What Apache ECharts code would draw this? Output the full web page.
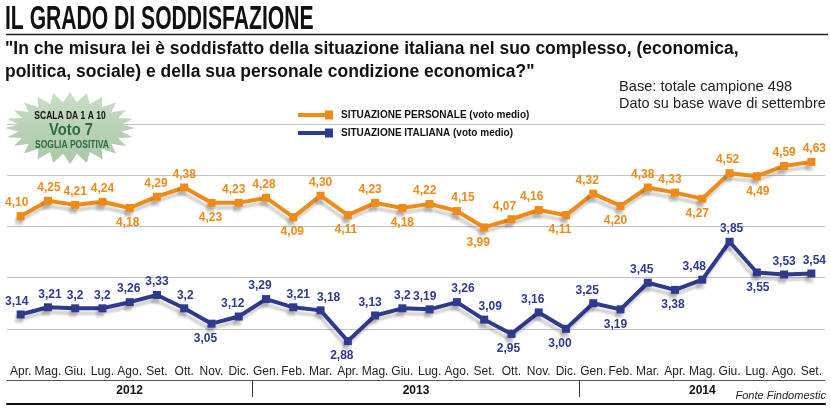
<!DOCTYPE html>
<html>
<head>
<meta charset="utf-8">
<script src="https://cdn.jsdelivr.net/npm/echarts@6/dist/echarts.min.js"></script>
<style>
html,body{margin:0;padding:0;background:#fff;}
#chart{width:831px;height:410px;}
</style>
</head>
<body>
<div id="chart"></div>
<script>
// ---- data ----
const months = ['Apr.','Mag.','Giu.','Lug.','Ago.','Set.','Ott.','Nov.','Dic.',
  'Gen.','Feb.','Mar.','Apr.','Mag.','Giu.','Lug.','Ago.','Set.','Ott.','Nov.','Dic.',
  'Gen.','Feb.','Mar.','Apr.','Mag.','Giu.','Lug.','Ago.','Set.'];
const years = ['2012','2013','2014'];
const monthsPerYear = [9, 12, 9];
const personale = ['4.10','4.25','4.21','4.24','4.18','4.29','4.38','4.23','4.23',
  '4.28','4.09','4.30','4.11','4.23','4.18','4.22','4.15','3.99','4.07','4.16','4.11',
  '4.32','4.20','4.38','4.33','4.27','4.52','4.49','4.59','4.63'];
const italiana = ['3.14','3.21','3.2','3.2','3.26','3.33','3.2','3.05','3.12',
  '3.29','3.21','3.18','2.88','3.13','3.2','3.19','3.26','3.09','2.95','3.16','3.00',
  '3.25','3.19','3.45','3.38','3.48','3.85','3.55','3.53','3.54'];
const seriesNames = ['SITUAZIONE PERSONALE (voto medio)', 'SITUAZIONE ITALIANA (voto medio)'];
const yMin = 2.5, yMax = 5, yStep = 0.5;

// ---- label placement (style only) ----
const personaleBelow = [4,7,10,12,14,17,20,22,25,27];
const italianaBelow = [7,12,18,20,22,24,27];
const personaleDx = [-4,1,0,0,-2,-1,0,-1,-5,-2,-1,0,-2,-5,0,-5,6,-6,-7,-7,-6,-6,-5,-5,-5,-5,-2,1,0,3];
const italianaDx = [-4,2,0,0,-1,0,1,-6,-6,-6,5,8,-6,-5,0,-5,6,6,-3,-6,-6,-6,-5,-6,-2,-8,2,1,0,3];

const ORANGE = '#EF8A17';
const BLUE = '#2E3A8E';
const FONT = "'Liberation Sans', Arial, sans-serif";

// year spans
const yearStarts = [];
const yearCenters = [];
let acc = 0;
monthsPerYear.forEach(n => { yearStarts.push(acc); yearCenters.push(acc + n / 2); acc += n; });

function buildData(vals, below, dx) {
  return vals.map((v, i) => {
    const b = below.includes(i);
    return {
      value: Number(v),
      label: { position: b ? 'bottom' : 'top', distance: b ? 5 : 3, offset: [dx[i], 0] }
    };
  });
}

const shadow = { shadowColor: 'rgba(0,0,0,0.17)', shadowOffsetX: -2, shadowOffsetY: 5, shadowBlur: 2 };

function lineSeries(name, vals, below, dx, color, z) {
  return {
    type: 'line', name: name, data: buildData(vals, below, dx),
    symbol: 'rect', symbolSize: 8, color: color, z: z,
    lineStyle: Object.assign({ width: 4, color: color }, shadow),
    itemStyle: Object.assign({ color: color }, shadow),
    label: {
      show: true, color: color, fontWeight: 'bold', fontSize: 12, fontFamily: FONT,
      formatter: p => vals[p.dataIndex].replace('.', ',')
    },
    emphasis: { disabled: true },
    animation: false
  };
}

// starburst badge points (decoration)
const star = [];
const spikes = 24, cx = 70, cy = 128;
for (let k = 0; k < spikes * 2; k++) {
  const a = Math.PI * k / spikes - Math.PI / 2;
  const outer = k % 2 === 0;
  const rx = outer ? 65 : 52, ry = outer ? 36 : 26;
  star.push([cx + rx * Math.cos(a), cy + ry * Math.sin(a)]);
}

const chart = echarts.init(document.getElementById('chart'), null, { renderer: 'canvas' });
chart.setOption({
  backgroundColor: '#fff',
  animation: false,
  grid: { left: 7, right: 6, top: 124, bottom: 30, containLabel: false },
  legend: {
    data: seriesNames, orient: 'vertical', left: 298, top: 110, itemGap: 8, padding: 0,
    itemWidth: 35, itemHeight: 9,
    icon: 'path://M0,2.5 L28,2.5 L28,6.5 L0,6.5 Z M27,0 L35,0 L35,9 L27,9 Z',
    itemStyle: { shadowBlur: 0, shadowOffsetX: 0, shadowOffsetY: 0, shadowColor: 'transparent' },
    textStyle: { fontFamily: FONT, fontWeight: 'bold', fontSize: 10, color: '#111', padding: [0, 0, 0, 3] },
    selectedMode: false
  },
  xAxis: [{
    type: 'category', data: months, boundaryGap: true,
    axisLine: { lineStyle: { color: '#555', width: 1 } },
    axisTick: { show: false },
    axisLabel: { inside: true, margin: 2, interval: 0, color: '#222', fontSize: 12, fontFamily: FONT },
    splitLine: { show: false }
  }, {
    type: 'value', min: 0, max: months.length, position: 'bottom', offset: 24,
    axisLine: { show: true, onZero: false, lineStyle: { color: '#111', width: 2 } },
    axisTick: { show: false }, splitLine: { show: false },
    axisLabel: {
      customValues: yearCenters, inside: true, margin: 7,
      color: '#111', fontWeight: 'bold', fontSize: 12, fontFamily: FONT,
      formatter: v => { const k = yearCenters.findIndex(c => Math.abs(c - v) < 1e-6); return k >= 0 ? years[k] : ''; }
    }
  }, {
    type: 'value', min: 0, max: months.length, position: 'bottom', offset: 0,
    axisLine: { show: false, onZero: false },
    axisLabel: { show: false }, splitLine: { show: false },
    axisTick: { show: true, customValues: yearStarts.slice(1), length: 17, lineStyle: { color: '#333', width: 1 } }
  }],
  yAxis: {
    type: 'value', min: yMin, max: yMax, interval: yStep,
    axisLabel: { show: false }, axisLine: { show: false }, axisTick: { show: false },
    splitLine: { lineStyle: { color: '#bfc3c7', width: 1 } }
  },
  series: [
    lineSeries(seriesNames[0], personale, personaleBelow, personaleDx, ORANGE, 3),
    lineSeries(seriesNames[1], italiana, italianaBelow, italianaDx, BLUE, 4)
  ],
  title: {
    text: 'Fonte Findomestic', right: 5, top: 390, padding: 0,
    textStyle: { fontFamily: FONT, fontStyle: 'italic', fontWeight: 'normal', fontSize: 11, color: '#222' }
  },
  graphic: [
    { type: 'text', x: 5, y: 3, scaleX: 0.64, z: 100,
      style: { text: 'IL GRADO DI SODDISFAZIONE', font: "bold 33px " + FONT, fill: '#111', verticalAlign: 'top' } },
    { type: 'line', z: 100, shape: { x1: 6, y1: 34.5, x2: 828, y2: 34.5 }, style: { stroke: '#222', lineWidth: 1.5 } },
    { type: 'text', x: 5, y: 49, scaleX: 0.972, z: 100,
      style: { text: '"In che misura lei è soddisfatto della situazione italiana nel suo complesso, (economica,', font: "bold 18px " + FONT, fill: '#111', verticalAlign: 'middle' } },
    { type: 'text', x: 5, y: 72, scaleX: 0.972, z: 100,
      style: { text: 'politica, sociale) e della sua personale condizione economica?"', font: "bold 18px " + FONT, fill: '#111', verticalAlign: 'middle' } },
    { type: 'text', x: 619, y: 87, scaleX: 0.975, z: 100,
      style: { text: 'Base: totale campione 498', font: "normal 15px " + FONT, fill: '#222', verticalAlign: 'middle' } },
    { type: 'text', x: 619, y: 104, scaleX: 0.965, z: 100,
      style: { text: 'Dato su base wave di settembre', font: "normal 15px " + FONT, fill: '#222', verticalAlign: 'middle' } },
    { type: 'polygon', z: 100, shape: { points: star },
      style: { fill: new echarts.graphic.LinearGradient(0, 0, 0, 1, [{ offset: 0, color: '#c9dec6' }, { offset: 1, color: '#a9c7a5' }]) } },
    { type: 'text', x: 70, y: 116, z: 101, scaleX: 0.85,
      style: { text: 'SCALA DA 1 A 10', font: "bold 10px " + FONT, fill: '#111', align: 'center', verticalAlign: 'middle' } },
    { type: 'text', x: 71, y: 131, z: 101, scaleX: 0.92,
      style: { text: 'Voto 7', font: "bold 16px " + FONT, fill: '#2b6a45', align: 'center', verticalAlign: 'middle' } },
    { type: 'text', x: 72, y: 145, z: 101, scaleX: 0.85,
      style: { text: 'SOGLIA POSITIVA', font: "bold 10px " + FONT, fill: '#2b6a45', align: 'center', verticalAlign: 'middle' } }
  ]
});
</script>
</body>
</html>
